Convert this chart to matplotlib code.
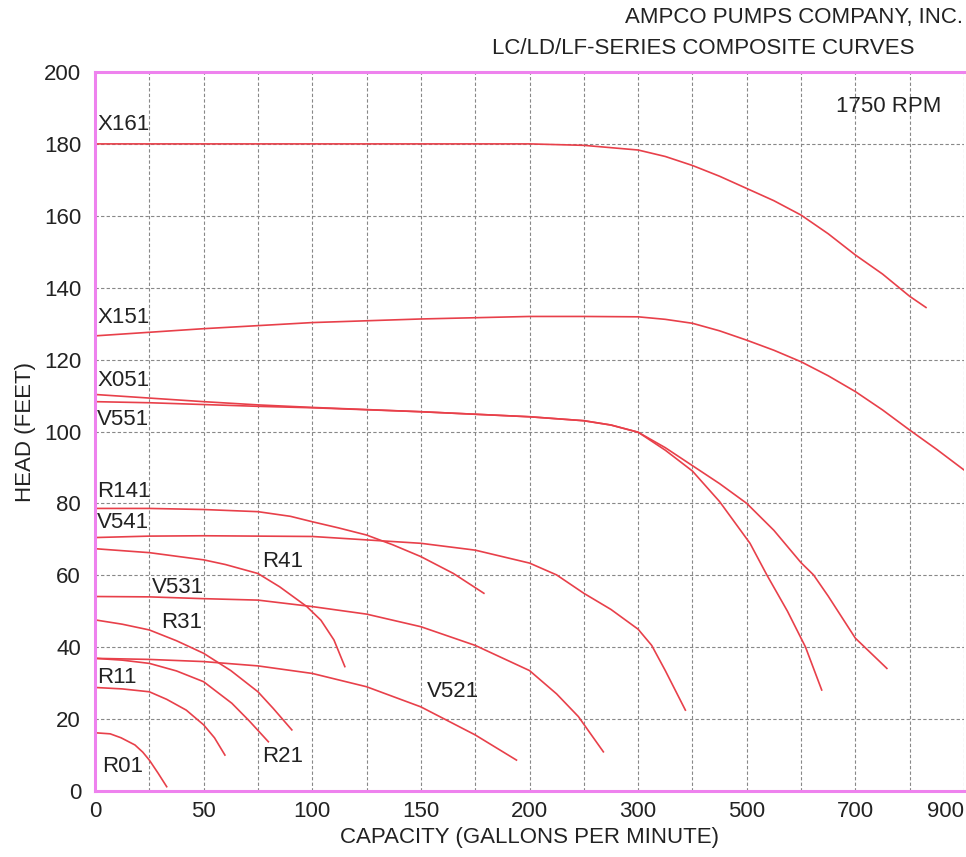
import numpy as np
import matplotlib
matplotlib.use('agg')
from matplotlib import pyplot as plt

plt.rcParams['font.family'] = ['Liberation Sans', 'DejaVu Sans']

# capacity axis is piecewise: 25 gpm per grid up to 200, then 50, then 100
gpm_breaks = [0, 200, 300, 900]
grid_breaks = [0, 8, 10, 16]

major_ticks = [0, 50, 100, 150, 200, 300, 500, 700, 900]
minor_ticks = [25, 75, 125, 175, 250, 400, 600, 800]
head_ticks = list(range(0, 201, 20))

# curves (gpm, feet)
x161_q = [0, 100, 200, 250, 300, 350, 400, 450, 500, 550, 600, 650, 700, 750, 775, 800, 830]
x161_h = [180, 180, 180, 179.6, 178.3, 176.5, 174.0, 171.0, 167.6, 164.2, 160.2, 155.0, 149.1,
          143.8, 140.7, 137.6, 134.5]

x151_q = [0, 50, 100, 150, 200, 250, 300, 350, 400, 450, 500, 550, 600, 650, 700, 750, 800, 850, 900]
x151_h = [126.6, 128.6, 130.3, 131.3, 132.0, 132.0, 131.9, 131.2, 130.1, 128.0, 125.4, 122.6,
          119.4, 115.5, 111.1, 106.0, 100.4, 95.0, 89.3]

x051_q = [0, 25, 50, 75, 100, 150, 200, 250, 275, 300, 350, 400, 450, 500, 550, 600, 623,
          650, 700, 758]
x051_h = [110.3, 109.3, 108.3, 107.4, 106.7, 105.5, 104.1, 103.0, 101.8, 99.8, 95.5, 90.5,
          85.5, 80.0, 72.5, 63.5, 60.1, 54.2, 42.5, 34.1]

v551_q = [0, 25, 50, 75, 100, 150, 200, 250, 275, 300, 350, 400, 450, 506, 537, 575, 608, 638]
v551_h = [108.3, 108.0, 107.5, 107.0, 106.6, 105.5, 104.1, 103.0, 101.8, 99.8, 94.8, 89.0,
          80.5, 68.9, 60.1, 50.0, 40.1, 28.1]

r141_q = [0, 25, 50, 75, 90, 100, 112, 125, 137, 150, 165, 179]
r141_h = [78.6, 78.6, 78.3, 77.7, 76.4, 74.9, 73.2, 71.2, 68.5, 65.2, 60.5, 55.0]

v541_q = [0, 25, 50, 100, 150, 175, 200, 225, 250, 275, 300, 325, 350, 387]
v541_h = [70.5, 70.9, 71.0, 70.8, 68.9, 67.0, 63.4, 60.1, 55.0, 50.5, 45.0, 40.5, 33.5, 22.5]

r41_q = [0, 25, 50, 60, 75, 85, 97.5, 104, 110, 115]
r41_h = [67.4, 66.3, 64.3, 63.0, 60.5, 56.8, 51.3, 47.5, 42.0, 34.6]

v531_q = [0, 25, 50, 75, 100, 125, 150, 175, 200, 225, 245, 268]
v531_h = [54.1, 54.0, 53.5, 53.1, 51.3, 49.2, 45.7, 40.5, 33.5, 27.0, 20.7, 10.9]

v521_q = [0, 25, 50, 75, 100, 125, 150, 175, 194]
v521_h = [36.9, 36.6, 36.0, 34.8, 32.7, 29.0, 23.4, 15.6, 8.6]

r31_q = [0, 12.5, 25, 37.5, 50, 62.5, 75, 82, 90.6]
r31_h = [47.6, 46.4, 44.8, 41.8, 38.3, 33.5, 27.6, 23.0, 17.0]

r21_q = [0, 12.5, 25, 37.5, 50, 63, 71, 79.8]
r21_h = [36.9, 36.4, 35.5, 33.4, 30.4, 24.4, 19.5, 13.7]

r11_q = [0, 12.5, 25, 33, 42, 50, 55, 59.8]
r11_h = [28.8, 28.4, 27.6, 25.5, 22.5, 18.4, 14.8, 10.0]

r01_q = [0, 7, 12, 18.4, 22, 25, 29, 33]
r01_h = [16.2, 15.9, 14.8, 12.8, 10.8, 8.6, 5.0, 1.2]

curves = [(x161_q, x161_h), (x151_q, x151_h), (x051_q, x051_h), (v551_q, v551_h),
          (r141_q, r141_h), (v541_q, v541_h), (r41_q, r41_h), (v531_q, v531_h),
          (v521_q, v521_h), (r31_q, r31_h), (r21_q, r21_h), (r11_q, r11_h),
          (r01_q, r01_h)]

labels = ['X161', 'X151', 'X051', 'V551', 'R141', 'V541', 'R41', 'V531',
          'R31', 'R11', 'R01', 'R21', 'V521']
label_q = [1, 1, 1, 1, 1, 1, 77, 26, 30.5, 1, 3.2, 77, 153]
label_h = [185.3, 131.6, 114.3, 103.2, 83.4, 74.8, 63.7, 56.7, 47.0, 31.7, 6.7, 9.5, 27.8]

txt = '#222222'


def fwd(x):
    return np.interp(x, gpm_breaks, grid_breaks)


def inv(x):
    return np.interp(x, grid_breaks, gpm_breaks)


fig = plt.figure(figsize=(9.66, 8.57), dpi=100)
ax = fig.add_axes([95 / 966, 66 / 857, 869 / 966, 719 / 857])
ax.set_xscale('function', functions=(fwd, inv))
ax.set_xlim(0, 900)
ax.set_ylim(0, 200)

for q, h in curves:
    ax.plot(q, h, color='#e8404a', lw=1.2)

for name, q, h in zip(labels, label_q, label_h):
    ax.text(q, h, name, fontsize=16, color=txt, ha='left', va='center')
ax.text(665, 190.3, '1750 RPM', fontsize=16, color=txt, ha='left', va='center')

ax.set_xticks(major_ticks)
ax.set_xticklabels([str(t) for t in major_ticks])
ax.set_xticks(minor_ticks, minor=True)
ax.set_yticks(head_ticks)
ax.tick_params(axis='both', which='both', length=0, labelsize=16, labelcolor=txt)
ax.tick_params(axis='y', pad=10)
ax.tick_params(axis='x', pad=7)
ax.get_xticklabels()[-1].set_horizontalalignment('right')

ax.grid(True, which='both', color='#888888', linestyle=(0, (3, 2)), linewidth=0.8)
ax.set_axisbelow(True)

for side in ['top', 'left', 'bottom']:
    ax.spines[side].set_color('#ee82ee')
    ax.spines[side].set_linewidth(2.2)
ax.spines['right'].set_visible(False)

ax.set_xlabel('CAPACITY (GALLONS PER MINUTE)', fontsize=16, color=txt, labelpad=4)
ax.set_ylabel('HEAD (FEET)', fontsize=16, color=txt, labelpad=6)

fig.text(963 / 966, 1 - 18 / 857, 'AMPCO PUMPS COMPANY, INC.', fontsize=16,
         color=txt, ha='right', va='center')
fig.text(915 / 966, 1 - 48 / 857, 'LC/LD/LF-SERIES COMPOSITE CURVES', fontsize=16,
         color=txt, ha='right', va='center')

fig.savefig('out.png', dpi=100)
